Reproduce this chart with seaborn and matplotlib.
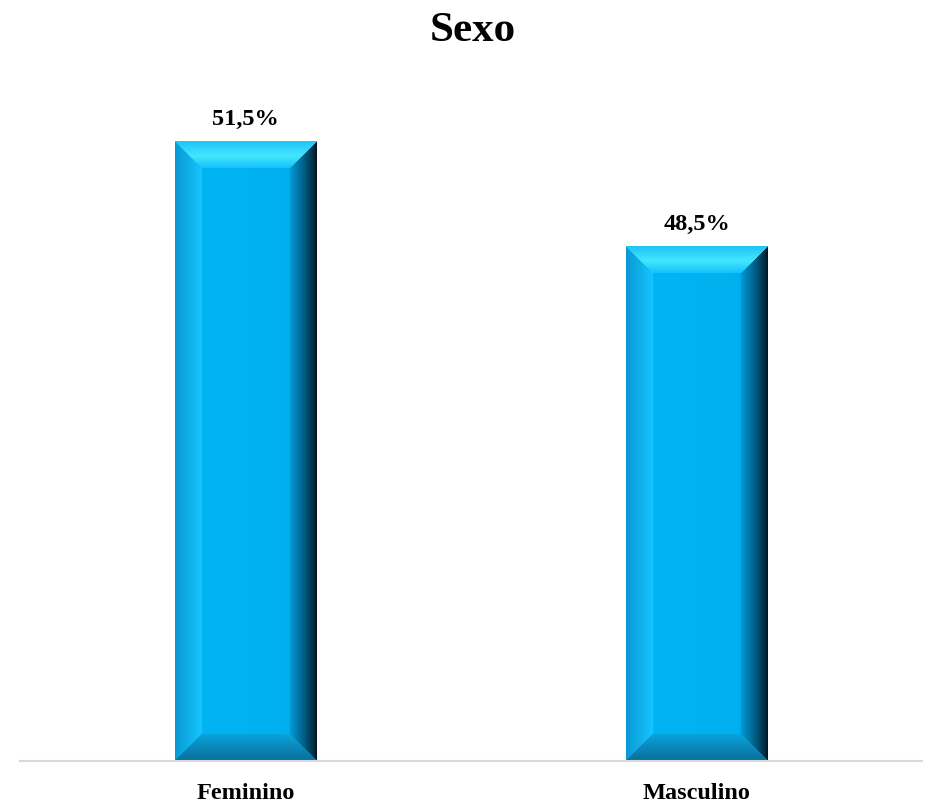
import numpy as np
import pandas as pd
import seaborn as sns
import matplotlib.pyplot as plt
from matplotlib.colors import to_rgb

categories = ["Feminino", "Masculino"]
values = [51.5, 48.5]
value_labels = ["51,5%", "48,5%"]

df = pd.DataFrame({"sexo": categories, "pct": values})

sns.set_theme(style="white")
plt.rcParams['font.family'] = ['Liberation Serif', 'DejaVu Serif']
plt.rcParams['text.color'] = 'black'

fig = plt.figure(figsize=(9.25, 8.03), dpi=100)
ax = fig.add_axes([20 / 925, 1 - 762 / 803, 902 / 925, 662 / 803])

sns.barplot(data=df, x="sexo", y="pct", color="#00b0f0", width=0.313,
            saturation=1, ax=ax)
ax.set_xlim(-0.5, 1.5)
ax.set_ylim(33.8, 52.7)


def lerp(c1, c2, t):
    c1 = np.array(to_rgb(c1))
    c2 = np.array(to_rgb(c2))
    t = np.clip(t, 0, 1)[..., None]
    return c1 * (1 - t) + c2 * t


# bevel look on each bar, built from the bar's own geometry
fig.canvas.draw()
bev = 27
for p in ax.patches:
    x0, y0 = p.get_x(), p.get_y()
    x1, y1 = x0 + p.get_width(), y0 + p.get_height()
    y0 = max(y0, ax.get_ylim()[0])
    (px0, py0), (px1, py1) = ax.transData.transform([(x0, y0), (x1, y1)])
    W, H = int(round(px1 - px0)), int(round(py1 - py0))
    xx, yy = np.meshgrid(np.arange(W) + 0.5, np.arange(H) + 0.5)  # yy from top
    dl, dr, dt, db = xx, W - xx, yy, H - yy
    dmin = np.minimum(np.minimum(dl, dr), np.minimum(dt, db))
    img = lerp("#00b6f4", "#00aeee", xx / W)
    # left
    m = (dl == dmin) & (dl < bev)
    img[m] = lerp("#0a98d4", "#14c6ff", dl / bev)[m]
    # right
    m = (dr == dmin) & (dr < bev)
    t = dr / bev
    img[m] = lerp("#00121c", "#009ad8", t ** 0.8)[m]
    # bottom
    m = (db == dmin) & (db < bev)
    img[m] = lerp("#0a6e98", "#0aa2dc", db / bev)[m]
    # top
    m = (dt == dmin) & (dt < bev)
    t = dt / bev
    top = np.where(t[..., None] < 0.55,
                   lerp("#1ec4f6", "#44e6ff", t / 0.55),
                   lerp("#44e6ff", "#14c2fa", (t - 0.55) / 0.45))
    img[m] = top[m]
    im = ax.imshow(img, extent=(x0, x1, y0, y1), aspect="auto",
                   interpolation="bilinear", zorder=p.get_zorder() + 0.1)
    im.set_clip_path(p)
    p.set_edgecolor("#7fb8cc")
    p.set_linewidth(0.6)

ax.set_xlim(-0.5, 1.5)
ax.set_ylim(33.8, 52.7)

ax.bar_label(ax.containers[0], labels=value_labels, padding=9,
             fontsize=17.5, fontweight="bold", color="black")

ax.set_xlabel("")
ax.set_ylabel("")
ax.set_yticks([])
ax.tick_params(axis="x", length=0, pad=15)
for lab in ax.get_xticklabels():
    lab.set_fontsize(17.5)
    lab.set_fontweight("bold")
    lab.set_color("black")
sns.despine(ax=ax, left=True, top=True, right=True)
ax.spines["bottom"].set_color("#d9d9d9")
ax.spines["bottom"].set_linewidth(1.5)

fig.suptitle("Sexo", x=473 / 925, y=1 - 31 / 803, va="center", fontsize=31,
             fontweight="bold", color="black")

fig.savefig("out.png", dpi=100)
